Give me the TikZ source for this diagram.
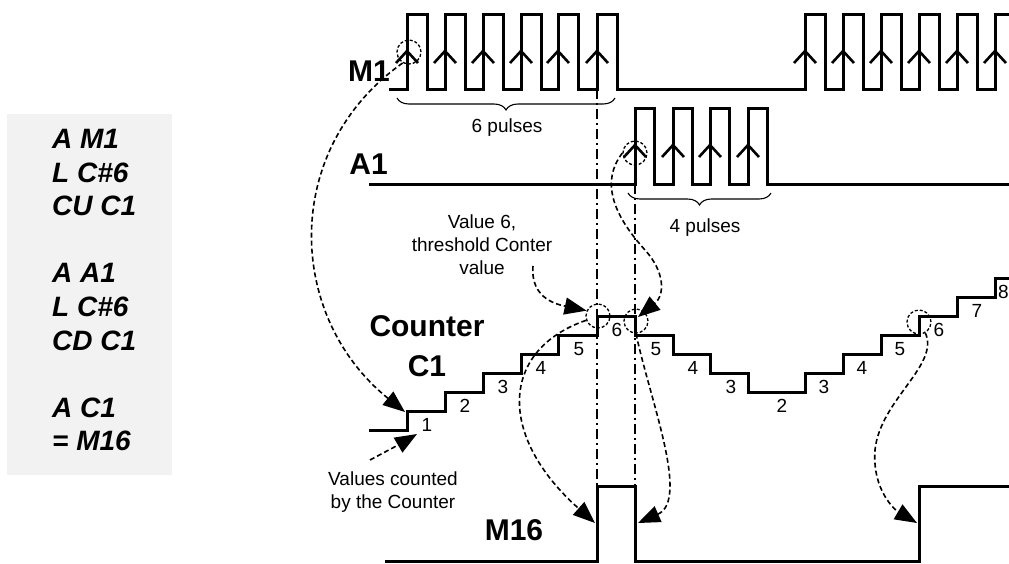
\documentclass[tikz,border=0pt]{standalone}
\usepackage{fontspec}
\setmainfont{Liberation Sans}
\usetikzlibrary{arrows.meta,decorations.pathreplacing,positioning}
\definecolor{CodeGray}{RGB}{242,242,242}

\begin{document}
\begin{tikzpicture}[x=1pt,y=-1pt,
    sig/.style={line width=3pt,line join=miter},
    edgemark/.style={line width=2.6pt},
    ring/.style={circle,draw,line width=1.3pt,dash pattern=on 3pt off 2pt,
                 minimum size=24pt,inner sep=0pt},
    dasharr/.style={-{Triangle[length=22pt,width=17pt]},line width=1.6pt,
                    dash pattern=on 5pt off 3pt},
    guide/.style={line width=1.3pt,dash pattern=on 10pt off 4pt on 2pt off 4pt},
    brc/.style={decorate,decoration={brace,mirror,amplitude=12pt},line width=1.1pt},
    lbl/.style={font=\fontsize{19}{23}\selectfont,inner sep=0pt,align=center},
    num/.style={font=\fontsize{19}{23}\selectfont,inner sep=0pt},
    big/.style={font=\fontsize{30}{40}\selectfont\bfseries,inner sep=0pt,align=center},
    prog/.style={font=\fontsize{28}{33.6}\selectfont\bfseries\itshape,inner sep=0pt,
                 align=left,anchor=north west}
  ]
  \useasboundingbox (0,0) rectangle (1009,563);
  \clip (0,0) rectangle (1009,563);

  % program listing
  \fill[CodeGray] (7,114) rectangle (172,475);
  \node[prog] (code) at (52,129) {A M1\\L C\#6\\CU C1\\[33.6pt]A A1\\L C\#6\\CD C1\\[33.6pt]A C1\\= M16};

  % signal names
  \node[big,anchor=base east] (m1) at (390,81) {M1};
  \node[big,anchor=base east] (a1) at (388,174) {A1};
  \node[big] (cnt) at (427,346) {Counter\\C1};
  \node[big] (m16) at (514,530) {M16};

  % M1 pulses
  \draw[sig] (389,89)
    foreach \x in {407,445,483,521,558,597} { -- (\x,89) -- (\x,14) -- ({\x+20.5},14) -- ({\x+20.5},89) }
    foreach \x in {805,843,881,919,957,995} { -- (\x,89) -- (\x,14) -- ({\x+20.5},14) -- ({\x+20.5},89) }
    -- (1015,89);
  \foreach \x in {407,445,483,521,558,597,805,843,881,919,957,995}
    \draw[edgemark] ({\x-11},63) -- (\x,51) -- ({\x+11},63);

  % A1 pulses
  \draw[sig] (369,184)
    foreach \x in {635,673,710,748} { -- (\x,184) -- (\x,108) -- ({\x+19.5},108) -- ({\x+19.5},184) }
    -- (1015,184);
  \foreach \x in {635,673,710,748}
    \draw[edgemark] ({\x-11},157) -- (\x,145) -- ({\x+11},157);

  % braces
  \draw[brc] (397,98) -- (615,98);
  \node[lbl] (p6) at (507,128) {6 pulses};
  \draw[brc] (628,193) -- (771,193);
  \node[lbl] (p4) at (705,228) {4 pulses};

  % counter value
  \draw[sig] (369,430) -- (407,430) -- (407,411) -- (445,411) -- (445,392) -- (483,392)
    -- (483,373) -- (521,373) -- (521,354) -- (558,354) -- (558,335) -- (597,335)
    -- (597,316) -- (635,316) -- (635,335) -- (673,335) -- (673,354) -- (710,354)
    -- (710,373) -- (748,373) -- (748,392) -- (805,392) -- (805,373) -- (843,373)
    -- (843,354) -- (881,354) -- (881,335) -- (919,335) -- (919,316) -- (957,316)
    -- (957,297) -- (995,297) -- (995,278) -- (1015,278);
  \foreach \x/\y/\n [count=\i] in {427/425/1,465/406/2,503/387/3,541/368/4,579/349/5,
      617/330/6,656/349/5,693/368/4,731/387/3,782/406/2,824/387/3,862/368/4,
      900/349/5,939/330/6,977/311/7,1003.5/292/8}
    \node[num] (val\i) at (\x,\y) {\n};

  % M16
  \draw[sig] (385,561) -- (597,561) -- (597,486) -- (635,486) -- (635,561)
    -- (919,561) -- (919,486) -- (1015,486);

  % guide lines
  \draw[guide] (597,89) -- (597,486);
  \draw[guide] (635,184) -- (635,486);

  % marked edges
  \node[ring] (r1) at (409,52) {};
  \node[ring] (r2) at (635,153) {};
  \node[ring] (r3) at (598,316) {};
  \node[ring] (r4) at (636,321) {};
  \node[ring] (r5) at (919,322) {};

  \coordinate (s1) at (405,412);
  \coordinate (t0) at (533,266);
  \coordinate (dn5) at (638,317);
  \coordinate (up16) at (595,523);
  \coordinate (dn16) at (638,523);
  \coordinate (up16b) at (917,523);
  \coordinate (v0) at (370,460);
  \coordinate (v1) at (417,434);

  % notes
  \node[lbl] (thr) at (482,245) {Value  6,\\threshold Conter\\value};
  \node[lbl] (cntd) at (393,492) {Values counted\\by the Counter};

  % dashed connectors
  \draw[dasharr] (r1.240) .. controls (280,150) and (287,317) .. (s1);
  \draw[dasharr] (t0) .. controls (530,300) and (560,305) .. (r3.155);
  \draw[dasharr] (r2.west) .. controls (598,185) and (618,220) .. (645,250)
    .. controls (665,272) and (665,295) .. (dn5);
  \draw[dasharr] (r3.200) .. controls (500,350) and (497,436) .. (up16);
  \draw[dasharr] (r4.south) .. controls (650,400) and (690,500) .. (dn16);
  \draw[dasharr] (r5.300) .. controls (940,365) and (880,400) .. (875,450)
    .. controls (872,490) and (895,510) .. (up16b);
  \draw[dasharr] (v0) .. controls (385,452) and (400,444) .. (v1);
\end{tikzpicture}
\end{document}
